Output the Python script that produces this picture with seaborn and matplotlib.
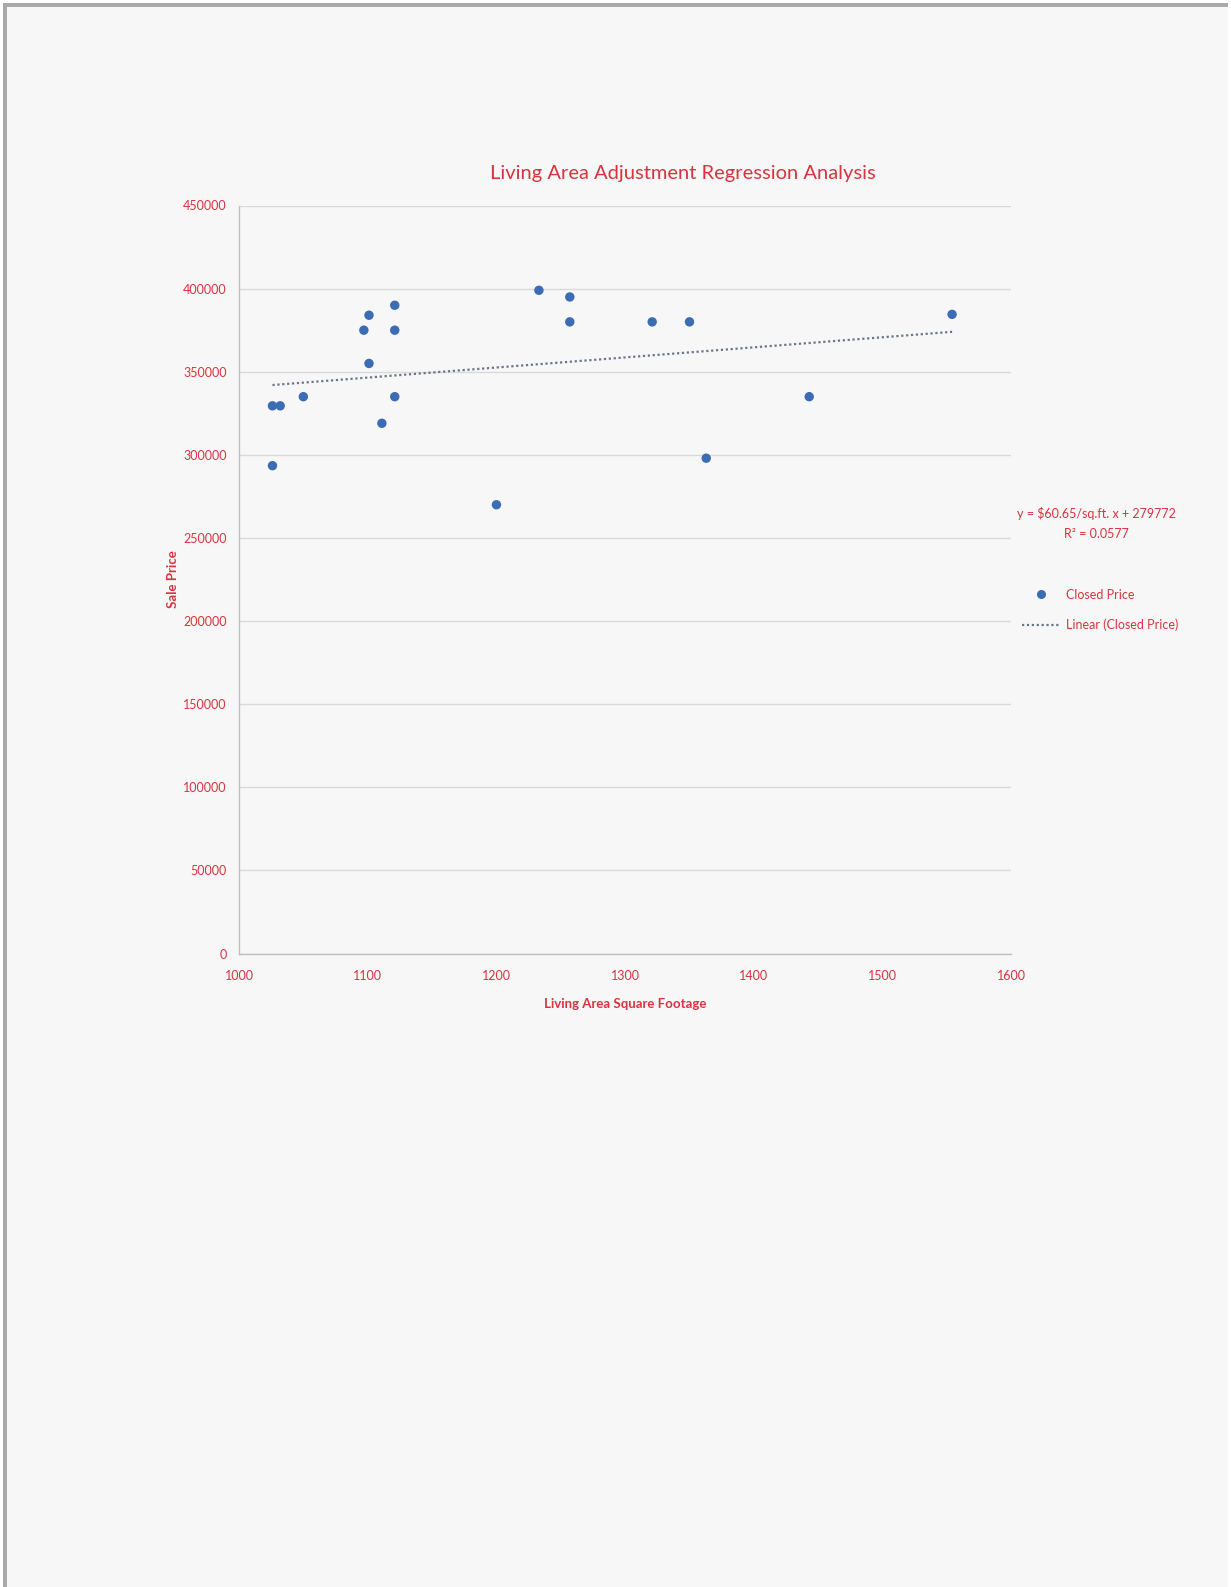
import matplotlib
matplotlib.use("Agg")
import matplotlib.pyplot as plt
from matplotlib.lines import Line2D
from matplotlib.patches import Rectangle
import seaborn as sns
import pandas as pd

# Closed sales: living area (sq ft) vs sale price ($)
living_area = [1026, 1026, 1032, 1050, 1097, 1101, 1101, 1111, 1121, 1121,
               1121, 1200, 1233, 1257, 1257, 1321, 1350, 1363, 1443, 1554]
closed_price = [293500, 329500, 329500, 335000, 375000, 384000, 355000, 319000, 390000, 375000,
                335000, 270000, 399000, 395000, 380000, 380000, 380000, 298000, 335000, 384500]

# Linear trend coefficients
slope = 60.65
intercept = 279772
r_squared = 0.0577

x_ticks = [1000, 1100, 1200, 1300, 1400, 1500, 1600]
y_ticks = [0, 50000, 100000, 150000, 200000, 250000, 300000, 350000, 400000, 450000]

df = pd.DataFrame({"Living Area Square Footage": living_area, "Sale Price": closed_price})
trend = pd.DataFrame({"x": [min(living_area), max(living_area)]})
trend["y"] = slope * trend["x"] + intercept

RED = "#d8333f"
BLUE = "#3c6cb4"
BG = "#f7f7f7"
TREND = "#6b7588"

sns.set_theme(style="white")
plt.rcParams["font.family"] = ["Lato", "DejaVu Sans"]

fig = plt.figure(figsize=(12.31, 15.87), dpi=100, facecolor="white")

# page background with a grey frame on top, left and right
W, H = 1231, 1587
fig.patches.append(Rectangle((3 / W, 0), (W - 3 - 3) / W, (H - 3) / H,
                             transform=fig.transFigure, facecolor="#a9a9a9",
                             edgecolor="none", zorder=-3))
fig.patches.append(Rectangle((7 / W, 0), (W - 7 - 3) / W, (H - 7) / H,
                             transform=fig.transFigure, facecolor=BG,
                             edgecolor="none", zorder=-2))

ax = fig.add_axes([239 / W, 1 - 953.6 / H, (1011.3 - 239) / W, (953.6 - 205.5) / H])
ax.set_facecolor(BG)

sns.scatterplot(data=df, x="Living Area Square Footage", y="Sale Price", ax=ax,
                color=BLUE, s=46, edgecolor="none", zorder=3, legend=False)
sns.lineplot(data=trend, x="x", y="y", ax=ax, color=TREND,
             linestyle=(0, (1, 1.2)), linewidth=1.6, zorder=2, legend=False)

ax.set_xlim(1000, 1600)
ax.set_ylim(0, 450000)
ax.set_xticks(x_ticks)
ax.set_yticks(y_ticks)
ax.set_xticklabels([str(v) for v in x_ticks])
ax.set_yticklabels([str(v) for v in y_ticks])

ax.grid(axis="y", color="#d9d9d9", linewidth=1.0)
ax.grid(axis="x", visible=False)
for side in ["top", "right"]:
    ax.spines[side].set_visible(False)
for side in ["left", "bottom"]:
    ax.spines[side].set_color("#bfbfbf")
    ax.spines[side].set_linewidth(1.0)

ax.tick_params(axis="both", colors="#bfbfbf", labelcolor=RED, labelsize=9,
               length=4, width=1, direction="out")
ax.tick_params(axis="x", pad=8)
ax.tick_params(axis="y", pad=5)

ax.set_xlabel("Living Area Square Footage", color=RED, fontsize=9.5,
              fontweight="bold", labelpad=11)
ax.set_ylabel("Sale Price", color=RED, fontsize=9.5, fontweight="bold", labelpad=3)

fig.text(683 / W, 1 - 173 / H, "Living Area Adjustment Regression Analysis",
         color=RED, fontsize=14.5, ha="center", va="center")

fig.text(1096 / W, 1 - 514 / H, f"y = ${slope:.2f}/sq.ft. x + {intercept}",
         color=RED, fontsize=9, ha="center", va="center")
fig.text(1096 / W, 1 - 533.5 / H, f"R² = {r_squared}",
         color=RED, fontsize=9, ha="center", va="center")

handles = [
    Line2D([], [], marker="o", linestyle="none", color=BLUE, markersize=6.5,
           markeredgewidth=0),
    Line2D([], [], color=TREND, linestyle=(0, (1, 1.2)), linewidth=1.6),
]
leg = ax.legend(handles, ["Closed Price", "Linear (Closed Price)"],
                loc="center left", bbox_to_anchor=(1022 / W, 1 - 610 / H),
                bbox_transform=fig.transFigure, frameon=False, fontsize=9,
                handlelength=3.0, handletextpad=0.5, labelspacing=1.45,
                borderpad=0, borderaxespad=0)
for t in leg.get_texts():
    t.set_color(RED)

fig.savefig("out.png", dpi=100, facecolor="white")
